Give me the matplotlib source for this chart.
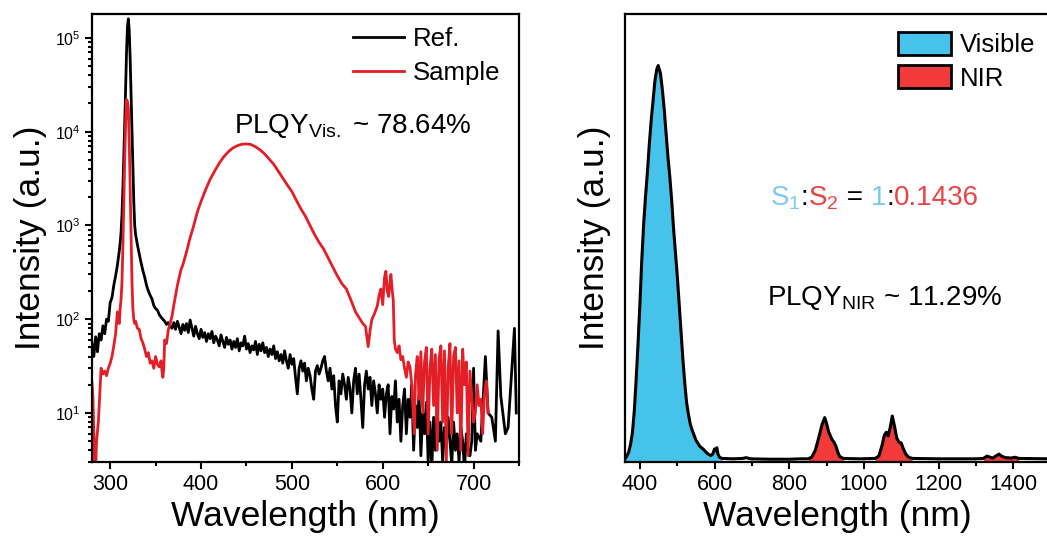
import matplotlib
matplotlib.use('Agg')
import matplotlib.pyplot as plt
import numpy as np
from matplotlib.ticker import LogLocator, MultipleLocator, NullFormatter
from matplotlib.patches import Patch

plt.rcParams.update({
    'font.family': ['Liberation Sans', 'DejaVu Sans'],
    'mathtext.fontset': 'custom',
    'mathtext.rm': 'Liberation Sans',
    'mathtext.it': 'Liberation Sans:italic',
    'mathtext.bf': 'Liberation Sans:bold',
    'axes.linewidth': 1.6,
})

# ---- left panel: PL spectra on log scale ----
ref_wl = [280, 282, 284, 286, 288, 290, 292, 294, 296, 298, 300, 302, 304, 306, 308, 310, 311, 312,
          313, 314, 315, 316, 317, 318, 319, 320, 321, 322, 323, 324, 325, 326, 327, 328, 329, 330,
          332, 334, 336, 338, 340, 342, 344, 346, 348, 350, 352, 354, 356, 358, 360, 362, 364, 366, 368,
          370, 372, 374, 376, 378, 380, 382, 384, 386, 388, 390, 392, 394, 396, 398, 400, 402, 404, 406,
          408, 410, 412, 414, 416, 418, 420, 422, 424, 426, 428, 430, 432, 434, 436, 438, 440, 442, 444,
          446, 448, 450, 452, 454, 456, 458, 460, 462, 464, 466, 468, 470, 472, 474, 476, 478, 480, 482,
          484, 486, 488, 490, 492, 494, 496, 498, 500, 502, 504, 506, 508, 510, 512, 514, 516, 518, 520,
          522, 524, 526, 528, 530, 532, 534, 536, 538, 540, 542, 544, 546, 548, 550, 552, 554, 556, 558,
          560, 562, 564, 566, 568, 570, 572, 574, 576, 578, 580, 582, 584, 586, 588, 590, 592, 594, 596,
          598, 600, 602, 604, 606, 608, 610, 612, 614, 616, 618, 620, 622, 624, 626, 628, 630, 632, 634,
          636, 638, 640, 642, 644, 646, 648, 650, 652, 654, 656, 658, 660, 662, 664, 666, 668, 670, 672,
          674, 676, 678, 680, 682, 684, 686, 688, 690, 692, 694, 696, 698, 700, 702, 704, 708, 713, 716,
          720, 724, 727, 730, 735, 738, 745, 747]
ref_int = [55, 40, 65, 45, 70, 60, 85, 70, 100, 95, 150, 170, 230, 290, 380, 530, 650, 850,
           1300, 2500, 5500, 12000, 30000, 70000, 130000, 160000, 120000, 60000, 25000, 10000, 4000, 1800, 1000, 800, 700, 620,
           500, 400, 330, 280, 230, 200, 180, 165, 140, 130, 125, 112, 105, 100, 95, 88, 92, 85, 80,
           92, 78, 95, 82, 70, 88, 76, 90, 72, 98, 80, 66, 84, 70, 62, 78, 64, 72, 58,
           70, 62, 74, 56, 66, 60, 52, 68, 58, 50, 64, 54, 60, 48, 58, 50, 62, 46, 56,
           52, 66, 48, 55, 44, 52, 47, 58, 42, 54, 46, 56, 44, 50, 40, 48, 42, 52, 38,
           45, 36, 42, 34, 46, 36, 30, 42, 33, 38, 24, 16, 30, 36, 28, 34, 22, 30, 25,
           18, 14, 28, 32, 26, 30, 36, 40, 28, 22, 30, 18, 25, 12, 8, 22, 16, 26, 20,
           14, 24, 18, 10, 22, 30, 16, 26, 14, 7, 20, 28, 18, 24, 12, 22, 16, 10, 20,
           14, 18, 9, 16, 20, 6, 15, 11, 22, 8, 14, 5, 12, 18, 6, 14, 9, 20, 4,
           12, 7, 16, 3.5, 10, 6, 13, 3, 8, 2.5, 9, 4, 11, 5, 8, 3, 7, 4.5, 9,
           5, 2.8, 8, 4, 6, 3, 7, 5, 2.5, 6, 4, 3.5, 5, 30, 4, 6, 5, 40, 10,
           9, 5, 75, 15, 6, 7, 80, 10]

sample_wl = [280, 281, 282, 283, 284, 285, 287, 289, 290, 292, 294, 296, 298, 300, 302, 304, 306, 308,
             309, 310, 311, 312, 313, 314, 315, 316, 317, 318, 319, 320, 321, 322, 323, 324, 325, 326,
             327, 328, 330, 332, 334, 336, 338, 340, 342, 344, 346, 348, 350, 352, 354, 356, 357, 358,
             359, 360, 362, 364, 366, 368, 370, 372, 374, 376, 378, 380, 384, 388, 392, 396, 400, 405,
             410, 415, 420, 425, 430, 435, 440, 445, 450, 455, 460, 465, 470, 475, 480, 485, 490, 495,
             500, 505, 510, 515, 520, 525, 530, 535, 540, 545, 550, 555, 560, 565, 570, 575, 578, 581,
             583, 584, 586, 588, 591, 594, 596, 598, 600, 602, 603.5, 605, 606.5, 608, 609, 610.5, 611.6,
             612.7, 614, 616, 618, 620, 622, 624, 626, 628, 630, 632, 634, 635, 636, 638, 640, 642, 644,
             646, 648, 650, 652, 654, 656, 658, 660, 662, 664, 666, 668, 670, 672, 674, 676, 678, 680,
             682, 684, 686, 688, 690, 692, 694, 696, 698, 700, 702, 704, 706, 708, 710, 712, 714, 716]
sample_int = [21, 15, 6, 2.5, 2.5, 5, 8, 20, 30, 26, 28, 25, 30, 34, 40, 52, 70, 120,
              100, 90, 130, 165, 250, 600, 1800, 5000, 12000, 22000, 21000, 18000, 8000, 2500, 700, 250, 130, 100,
              90, 95, 80, 78, 62, 56, 48, 40, 44, 34, 36, 30, 40, 33, 31, 36, 28, 24,
              30, 60, 55, 77, 90, 107, 140, 180, 230, 280, 340, 380, 520, 740, 1000, 1400, 1800, 2400,
              3100, 3800, 4600, 5400, 6100, 6700, 7100, 7350, 7400, 7300, 6900, 6400, 5800, 5100, 4500, 3800, 3200, 2700,
              2300, 1850, 1500, 1250, 1000, 800, 660, 560, 450, 360, 290, 240, 210, 160, 120, 100, 90, 84,
              60, 51, 75, 99, 115, 138, 180, 210, 143, 280, 325, 200, 175, 250, 300, 200, 160,
              60, 48, 44, 52, 37, 40, 30, 24, 35, 31, 20, 8, 6, 25, 40, 14, 45, 10,
              35, 50, 6, 30, 48, 12, 42, 4, 38, 52, 8, 46, 3, 30, 55, 6, 40, 50,
              10, 36, 4, 48, 20, 35, 3.5, 28, 15, 8, 10, 20, 12, 14, 6, 16, 22, 10]

# ---- right panel: linear spectrum, visible + NIR bands ----
spec_wl = [360, 365, 370, 375, 380, 385, 390, 395, 400, 405, 410, 415, 420, 425, 430, 435, 440, 445, 449,
           455, 460, 465, 470, 475, 480, 485, 490, 495, 500, 505, 510, 515, 520, 525, 530, 535, 540, 550,
           560, 570, 580, 590, 595, 600, 603, 606, 609, 613, 620, 650, 675, 685, 695, 750, 800, 830, 850,
           860, 870, 880, 888, 895, 900, 905, 910, 915, 920, 925, 930, 935, 945, 990, 1030, 1040, 1048,
           1055, 1060, 1065, 1070, 1076, 1082, 1088, 1094, 1100, 1105, 1112, 1120, 1130, 1200, 1300, 1320,
           1330, 1338, 1345, 1355, 1362, 1370, 1380, 1395, 1405, 1415, 1500]
spec_int = [0.008, 0.015, 0.025, 0.045, 0.075, 0.13, 0.21, 0.30, 0.40, 0.51, 0.60, 0.67, 0.73, 0.80, 0.86, 0.91, 0.96, 0.99, 1.0,
            0.98, 0.94, 0.89, 0.83, 0.77, 0.72, 0.66, 0.59, 0.53, 0.47, 0.40, 0.33, 0.26, 0.20, 0.15, 0.12, 0.095, 0.08, 0.055,
            0.04, 0.032, 0.022, 0.016, 0.02, 0.033, 0.028, 0.036, 0.02, 0.012, 0.009, 0.008, 0.009, 0.011, 0.008, 0.007, 0.007, 0.008, 0.008,
            0.012, 0.03, 0.065, 0.095, 0.112, 0.097, 0.078, 0.066, 0.056, 0.05, 0.04, 0.025, 0.014, 0.009, 0.008, 0.009, 0.015, 0.04,
            0.068, 0.075, 0.066, 0.085, 0.116, 0.09, 0.06, 0.05, 0.048, 0.035, 0.02, 0.012, 0.009, 0.008, 0.008, 0.009,
            0.015, 0.012, 0.01, 0.016, 0.02, 0.014, 0.011, 0.01, 0.012, 0.009, 0.008]
vis_range = (360, 620)
nir_ranges = [(850, 945), (1030, 1130), (1315, 1420)]

RED = '#E41E26'
FILL_BLUE = '#45C3EB'
FILL_RED = '#F23A3A'
TXT_BLUE = '#7DC9F2'
TXT_RED = '#EE4242'

W, H = 1047, 540
fig = plt.figure(figsize=(W / 100, H / 100), dpi=100)
ax1 = fig.add_axes([92 / W, 1 - 462 / H, 427 / W, 448 / H])
ax2 = fig.add_axes([625 / W, 1 - 462 / H, 1140 * 0.3733 / W, 448 / H])

# left
ax1.plot(ref_wl, ref_int, color='black', lw=2.0, label='Ref.')
ax1.plot(sample_wl, sample_int, color=RED, lw=2.0, label='Sample')
ax1.set_yscale('log')
ax1.set_xlim(280, 750)
ax1.set_ylim(3, 1.8e5)
ax1.xaxis.set_major_locator(MultipleLocator(100))
ax1.xaxis.set_minor_locator(MultipleLocator(50))
ax1.yaxis.set_major_locator(LogLocator(base=10, numticks=10))
ax1.yaxis.set_minor_locator(LogLocator(base=10, subs=np.arange(2, 10), numticks=10))
ax1.yaxis.set_minor_formatter(NullFormatter())
ax1.tick_params(which='both', direction='out', width=1.5, top=False, right=False)
ax1.tick_params(which='major', length=5)
ax1.tick_params(which='minor', length=3)
ax1.tick_params(axis='x', labelsize=15.5, pad=4)
ax1.tick_params(axis='y', labelsize=11.5, pad=3)
ax1.set_xlabel('Wavelength (nm)', fontsize=25.5, labelpad=3)
ax1.set_ylabel('Intensity (a.u.)', fontsize=25.5, labelpad=6)
ax1.legend(loc='upper left', bbox_to_anchor=(0.611, 0.97), frameon=False, fontsize=18.5,
           handlelength=2.0, handletextpad=0.32, labelspacing=0.38, borderpad=0, borderaxespad=0)
fig.text(234 / W, 1 - 133 / H, r'PLQY$_{\mathrm{Vis.}}$ ~ 78.64%', fontsize=20, va='baseline', ha='left')

# right
wl = np.array(spec_wl)
inten = np.array(spec_int)
ax2.fill_between(wl, 0, inten, where=(wl >= vis_range[0]) & (wl <= vis_range[1]),
                 color=FILL_BLUE, lw=0)
for lo, hi in nir_ranges:
    ax2.fill_between(wl, 0, inten, where=(wl >= lo) & (wl <= hi), color=FILL_RED, lw=0)
ax2.plot(wl, inten, color='black', lw=2.2)
ax2.set_xlim(360, 1500)
ax2.set_ylim(0, 1.13)
ax2.set_yticks([])
ax2.xaxis.set_major_locator(MultipleLocator(200))
ax2.xaxis.set_minor_locator(MultipleLocator(100))
ax2.tick_params(which='both', direction='out', width=1.5, top=False, right=False)
ax2.tick_params(which='major', length=5)
ax2.tick_params(which='minor', length=3)
ax2.tick_params(axis='x', labelsize=15.5, pad=4)
ax2.set_xlabel('Wavelength (nm)', fontsize=25.5, labelpad=3)
ax2.set_ylabel('Intensity (a.u.)', fontsize=25.5, labelpad=10)
handles = [Patch(facecolor=FILL_BLUE, edgecolor='black', lw=2, label='Visible'),
           Patch(facecolor=FILL_RED, edgecolor='black', lw=2, label='NIR')]
ax2.legend(handles=handles, loc='upper left', bbox_to_anchor=(0.641, 0.96), frameon=False,
           fontsize=18.5, handlelength=2.08, handleheight=1.0, handletextpad=0.32,
           labelspacing=0.32, borderpad=0, borderaxespad=0)

# multicoloured ratio text, pieces chained along one baseline
renderer = fig.canvas.get_renderer()
pieces = [(r'S$_1$', TXT_BLUE), (':', 'black'), (r'S$_2$', TXT_RED), (' = ', 'black'),
          ('1', TXT_BLUE), (':', 'black'), ('0.1436', TXT_RED)]
x = 770.0
for s, c in pieces:
    t = fig.text(x / W, 1 - 205 / H, s, fontsize=20, color=c, va='baseline', ha='left')
    x += t.get_window_extent(renderer).width
fig.text(767 / W, 1 - 305 / H, r'PLQY$_{\mathrm{NIR}}$ ~ 11.29%', fontsize=20, va='baseline', ha='left')

fig.savefig('out.png', dpi=100)
